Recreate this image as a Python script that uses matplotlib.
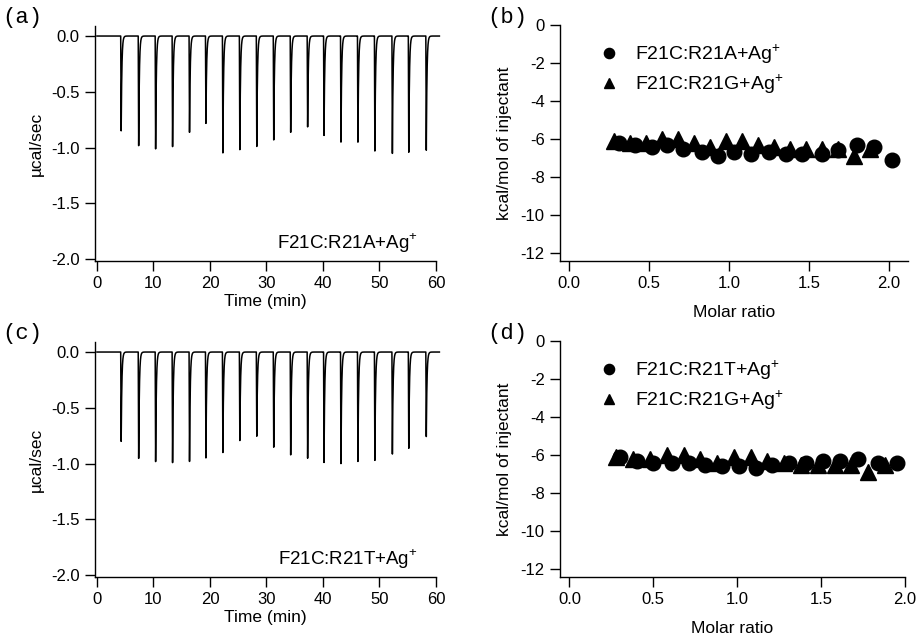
import numpy as np
import matplotlib
matplotlib.use('Agg')
import matplotlib.pyplot as plt

plt.rcParams['font.family'] = ['Liberation Sans', 'DejaVu Sans']
plt.rcParams['mathtext.fontset'] = 'custom'
plt.rcParams['mathtext.rm'] = 'Liberation Sans'
plt.rcParams['axes.unicode_minus'] = False

# ---- data ----
# injection times (min), shared by both thermograms
inj_times = [4.2, 7.3, 10.3, 13.3, 16.3, 19.2, 22.2, 25.2, 28.2, 31.2,
             34.2, 37.2, 40.1, 43.1, 46.1, 49.1, 52.2, 55.1, 58.2]
# peak minima (ucal/sec)
peaks_a = [-0.87, -1.00, -1.03, -1.01, -0.88, -0.80, -1.07, -1.04, -1.01, -0.95,
           -0.88, -0.83, -0.90, -0.96, -0.96, -1.04, -1.07, -1.05, -1.04]
peaks_c = [-0.82, -0.97, -1.00, -1.01, -1.00, -0.97, -0.92, -0.81, -0.77, -0.87,
           -0.94, -0.97, -1.00, -1.01, -0.99, -0.98, -0.93, -0.87, -0.77]

# integrated heats (kcal/mol of injectant)
r21a_x = [0.31, 0.41, 0.52, 0.61, 0.71, 0.83, 0.93, 1.03, 1.14, 1.25,
          1.36, 1.46, 1.58, 1.68, 1.80, 1.91, 2.02]
r21a_y = [-6.2, -6.3, -6.4, -6.3, -6.5, -6.7, -6.9, -6.7, -6.8, -6.7,
          -6.8, -6.8, -6.8, -6.6, -6.3, -6.4, -7.1]
r21g_x = [0.28, 0.38, 0.48, 0.58, 0.68, 0.78, 0.88, 0.98, 1.08, 1.18,
          1.28, 1.38, 1.48, 1.58, 1.68, 1.78, 1.88]
r21g_y = [-6.1, -6.2, -6.2, -6.0, -6.0, -6.2, -6.4, -6.1, -6.1, -6.3,
          -6.4, -6.5, -6.5, -6.5, -6.5, -6.9, -6.5]
r21t_x = [0.30, 0.40, 0.50, 0.61, 0.71, 0.81, 0.91, 1.01, 1.11, 1.21,
          1.31, 1.41, 1.51, 1.61, 1.72, 1.84, 1.95]
r21t_y = [-6.1, -6.3, -6.4, -6.4, -6.4, -6.5, -6.6, -6.6, -6.7, -6.5,
          -6.4, -6.4, -6.3, -6.3, -6.2, -6.4, -6.4]

time_ticks = [0, 10, 20, 30, 40, 50, 60]
power_ticks = [0.0, -0.5, -1.0, -1.5, -2.0]
ratio_ticks = [0.0, 0.5, 1.0, 1.5, 2.0]
heat_ticks = [0, -2, -4, -6, -8, -10, -12]


def thermogram(times, peaks, t):
    # sharp drop at each injection then fast exponential return
    y = np.zeros_like(t)
    for t0, h in zip(times, peaks):
        dt = t - t0
        drop = (dt >= 0) & (dt < 0.08)
        y[drop] += h * dt[drop] / 0.08
        back = dt >= 0.08
        y[back] += h * np.exp(-(dt[back] - 0.08) / 0.12)
    return y


def style_axes(ax):
    for s in ['top', 'right']:
        ax.spines[s].set_visible(False)
    for s in ['left', 'bottom']:
        ax.spines[s].set_linewidth(1.0)
    ax.tick_params(direction='out', length=7, width=1.0, labelsize=12,
                   pad=4)


W, H = 921, 635
fig = plt.figure(figsize=(W / 100, H / 100), dpi=100)


def px_axes(x0, y0, x1, y1):
    return fig.add_axes([x0 / W, 1 - y1 / H, (x1 - x0) / W, (y1 - y0) / H])


t = np.linspace(0, 60.6, 12000)
itc_panels = [((95, 26, 436, 261), peaks_a, 'F21C:R21A+Ag$^{+}$', '(a)'),
              ((95, 342, 436, 577), peaks_c, 'F21C:R21T+Ag$^{+}$', '(c)')]
for (box, peaks, label, tag) in itc_panels:
    ax = px_axes(*box)
    ax.plot(t, thermogram(inj_times, peaks, t), color='k', lw=1.1,
            clip_on=False)
    ax.set_xlim(-0.35, 60)
    ax.set_ylim(-2.018, 0.09)
    ax.set_xticks(time_ticks)
    ax.set_yticks(power_ticks)
    ax.set_yticklabels(['%.1f' % v for v in power_ticks])
    ax.set_xlabel('Time (min)', fontsize=12.5, labelpad=2)
    ax.set_ylabel('µcal/sec', fontsize=12.5, labelpad=5)
    style_axes(ax)
    ax.text(56.8, -1.86, label, ha='right', va='center', fontsize=13.5)
    fig.text(2 / W, 1 - box[1] / H + 9 / H, tag, family='Liberation Mono',
             fontsize=16, ha='left', va='center')

heat_panels = [((560, 25, 908, 261), 2.12, r21a_x, r21a_y,
                'F21C:R21A+Ag$^{+}$', '(b)'),
               ((560, 341, 905, 577), 2.0, r21t_x, r21t_y,
                'F21C:R21T+Ag$^{+}$', '(d)')]
for (box, xmax, cx, cy, label, tag) in heat_panels:
    ax = px_axes(*box)
    ax.plot(cx, cy, 'o', color='k', ms=10.5, label=label, clip_on=False)
    ax.plot(r21g_x, r21g_y, '^', color='k', ms=11, label='F21C:R21G+Ag$^{+}$',
            clip_on=False)
    ax.set_xlim(-0.056, xmax)
    ax.set_ylim(-12.42, 0)
    ax.set_xticks(ratio_ticks)
    ax.set_xticklabels(['%.1f' % v for v in ratio_ticks])
    ax.set_yticks(heat_ticks)
    ax.set_xlabel('Molar ratio', fontsize=12.5, labelpad=10)
    ax.set_ylabel('kcal/mol of injectant', fontsize=12.5, labelpad=6)
    style_axes(ax)
    ax.legend(loc='upper left', bbox_to_anchor=(0.06, 1.0), frameon=False,
              fontsize=14, markerscale=0.7, handlelength=1.1,
              handletextpad=0.8, labelspacing=0.3)
    fig.text(487 / W, 1 - box[1] / H + 8 / H, tag, family='Liberation Mono',
             fontsize=16, ha='left', va='center')

fig.savefig('out.png', dpi=100)
